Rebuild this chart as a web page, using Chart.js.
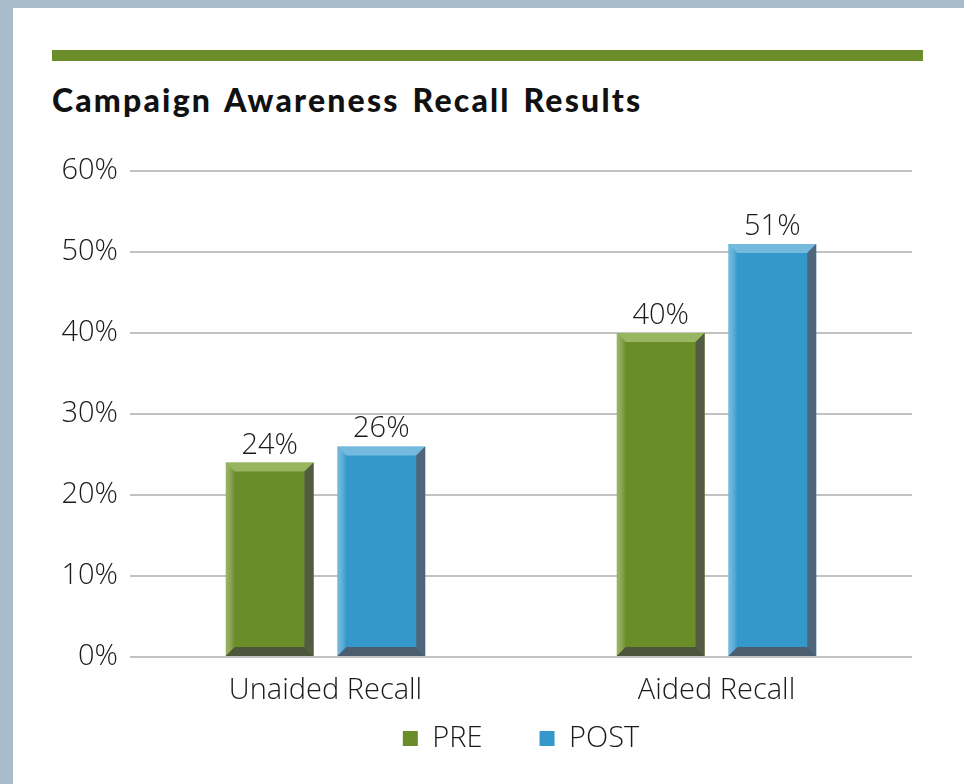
<!DOCTYPE html>
<html>
<head>
<meta charset="utf-8">
<script src="https://cdn.jsdelivr.net/npm/chart.js@4.4.1/dist/chart.umd.min.js"></script>
<style>
  html, body { margin: 0; padding: 0; }
  body { width: 964px; height: 784px; background: #a8bccb; position: relative; overflow: hidden; }
  #panel { position: absolute; left: 13px; top: 8px; right: 0; bottom: 0; background: #fff; }
  #rule { position: absolute; left: 52px; top: 50px; width: 871px; height: 11px; background: #6b8e2b; }
  #title { position: absolute; left: 52px; top: 80px; font: 900 32px Lato, sans-serif; letter-spacing: 2.2px; word-spacing: 3px; line-height: 40px; color: #111; white-space: nowrap; }
  #wrap { position: absolute; left: 0; top: 0; width: 964px; height: 784px; }
</style>
</head>
<body>
<div id="panel"></div>
<div id="rule"></div>
<div id="title">Campaign Awareness Recall Results</div>
<div id="wrap"><canvas id="grafico"></canvas></div>
<script>
let categorias = ['Unaided Recall', 'Aided Recall']
let pre = [24, 40]
let post = [26, 51]
let ticksY = [0, 10, 20, 30, 40, 50, 60]

// cores das faces do bisel, por dataset
let sombras = [
    { luz: 'rgba(190,215,140,0.55)', lado: '#535b42', base: '#4d553b' },
    { luz: 'rgba(170,215,240,0.55)', lado: '#4f667a', base: '#4b5d6e' }
]

const fonte = "'Open Sans', sans-serif"

const bisel = {
    id: 'bisel',
    afterDatasetsDraw(chart) {
        const ctx = chart.ctx
        chart.data.datasets.forEach((ds, i) => {
            const s = sombras[i]
            chart.getDatasetMeta(i).data.forEach(bar => {
                const p = bar.getProps(['x', 'y', 'base', 'width'], true)
                const l = p.x - p.width / 2, r = p.x + p.width / 2, t = p.y, b = p.base
                const e = 9
                ctx.save()
                // topo claro
                ctx.fillStyle = s.luz
                ctx.beginPath()
                ctx.moveTo(l, t); ctx.lineTo(r, t); ctx.lineTo(r - e, t + e); ctx.lineTo(l + e, t + e)
                ctx.closePath(); ctx.fill()
                // lado esquerdo claro
                let g = ctx.createLinearGradient(l, 0, l + e, 0)
                g.addColorStop(0, s.luz); g.addColorStop(1, 'rgba(255,255,255,0)')
                ctx.fillStyle = g
                ctx.beginPath()
                ctx.moveTo(l, t); ctx.lineTo(l + e, t + e); ctx.lineTo(l + e, b - e); ctx.lineTo(l, b)
                ctx.closePath(); ctx.fill()
                // lado direito escuro
                ctx.fillStyle = s.lado
                ctx.beginPath()
                ctx.moveTo(r, t); ctx.lineTo(r, b); ctx.lineTo(r - e, b - e); ctx.lineTo(r - e, t + e)
                ctx.closePath(); ctx.fill()
                // base escura
                ctx.fillStyle = s.base
                ctx.beginPath()
                ctx.moveTo(l, b); ctx.lineTo(r, b); ctx.lineTo(r - e, b - e); ctx.lineTo(l + e, b - e)
                ctx.closePath(); ctx.fill()
                ctx.restore()
            })
        })
    }
}

const rotulos = {
    id: 'rotulos',
    afterDatasetsDraw(chart) {
        const ctx = chart.ctx
        ctx.save()
        ctx.font = '300 29px ' + fonte
        ctx.fillStyle = '#1a1a1a'
        ctx.textAlign = 'center'
        ctx.textBaseline = 'alphabetic'
        chart.data.datasets.forEach((ds, i) => {
            chart.getDatasetMeta(i).data.forEach((bar, j) => {
                ctx.fillText(ds.data[j] + '%', bar.x, bar.y - 9)
            })
        })
        ctx.restore()
    }
}

let ctx = document.getElementById('grafico')
new Chart(ctx, {
    type: 'bar',
    data: {
        labels: categorias,
        datasets: [{
            label: 'PRE',
            data: pre,
            backgroundColor: '#6a8c29',
            borderWidth: 0
        }, {
            label: 'POST',
            data: post,
            backgroundColor: '#3498cb',
            borderWidth: 0
        }]
    },
    options: {
        responsive: true,
        maintainAspectRatio: false,
        animation: false,
        categoryPercentage: 0.571,
        barPercentage: 0.786,
        layout: {
            padding: { left: 40, right: 52, top: 171, bottom: 21 }
        },
        plugins: {
            tooltip: { enabled: false },
            legend: {
                position: 'bottom',
                fullSize: false,
                labels: {
                    font: { family: fonte, size: 29, weight: '300' },
                    color: '#1a1a1a',
                    boxWidth: 15,
                    boxHeight: 15,
                    padding: 57
                }
            }
        },
        scales: {
            x: {
                grid: { display: false, drawTicks: false },
                border: { display: false },
                ticks: {
                    font: { family: fonte, size: 29, weight: '300' },
                    color: '#1a1a1a',
                    mirror: true,
                    padding: -51
                },
                afterFit: scale => { scale.height = 10 }
            },
            y: {
                min: 0,
                max: 60,
                afterBuildTicks: scale => { scale.ticks = ticksY.map(v => ({ value: v })) },
                grid: { color: '#c2c2c2', lineWidth: 2, drawTicks: false },
                border: { display: false },
                ticks: {
                    font: { family: fonte, size: 29, weight: '300' },
                    color: '#1a1a1a',
                    padding: 12,
                    callback: value => `${value}%`
                },
                afterFit: scale => { scale.width = 90 }
            }
        }
    },
    plugins: [bisel, rotulos]
});
</script>
</body>
</html>
